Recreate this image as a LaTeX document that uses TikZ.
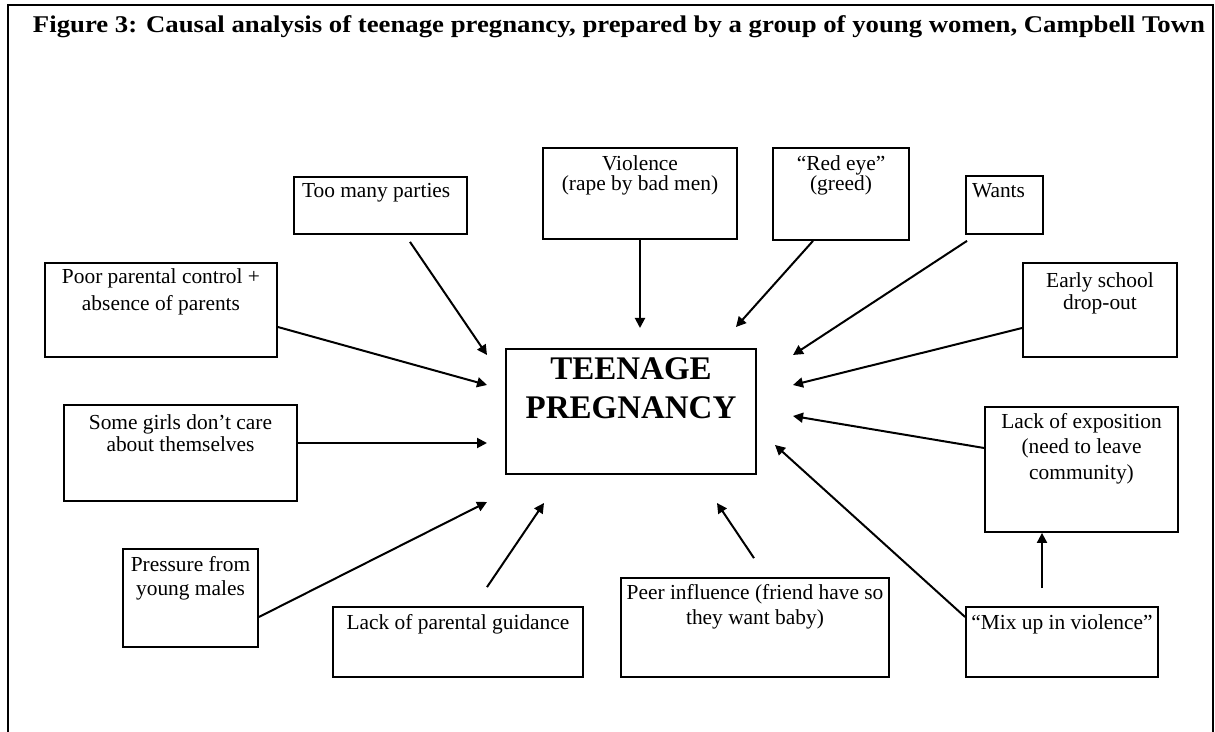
\documentclass[tikz,border=0pt]{standalone}
\usepackage{graphicx}
\usepackage{fontspec}
\setmainfont{Liberation Serif}
\usetikzlibrary{arrows.meta}
% width, height, alignment, baselineskip, first-baseline offset, text
\newcommand{\bxt}[6]{\parbox[c][#2][t]{#1}{\fontsize{10.7}{#4}\selectfont#3\rule{0pt}{#5}#6}}
\tikzset{
  bx/.style={draw, line width=0.9pt, inner sep=0pt, rectangle},
  arr/.style={line width=1pt, -{Triangle[length=5pt,width=5pt]}},
  frame/.style={line width=0.7pt}
}
\begin{document}
\begin{tikzpicture}[x=0.5pt, y=-0.5pt]
\useasboundingbox (0,0) rectangle (1215,732);
\draw[frame] (8,732) -- (8,5) -- (1213,5) -- (1213,732);
\node[anchor=base, inner sep=0pt] (title) at (619,33) {\resizebox{586pt}{\height}{\fontsize{12}{14}\selectfont\bfseries Figure 3: Causal analysis of teenage pregnancy, prepared by a group of young women, Campbell Town}};

\node[bx] (parties) at (380.5,205.5) {\bxt{86.5pt}{28.5pt}{\raggedright\hspace*{4pt}}{12pt}{10.5pt}{Too many parties}};
\node[bx] (poor) at (161,310) {\bxt{116pt}{47pt}{\centering}{13.3pt}{10.5pt}{Poor parental control +\\absence of parents}};
\node[bx] (violence) at (640,193.5) {\bxt{97pt}{45.5pt}{\centering}{10pt}{11.3pt}{Violence\\(rape by bad men)}};
\node[bx] (redeye) at (841,194) {\bxt{68pt}{46pt}{\centering}{10pt}{11.3pt}{“Red eye”\\(greed)}};
\node[bx] (wants) at (1004.5,205) {\bxt{38.5pt}{29pt}{\raggedright\hspace*{3pt}}{12pt}{11pt}{Wants}};
\node[bx] (early) at (1100,310) {\bxt{77pt}{47pt}{\centering}{11.3pt}{12.2pt}{Early school\\drop-out}};
\node[bx] (teen) at (631,411.5) {\parbox[c][62.5pt][t]{125pt}{\centering\fontsize{16.5}{19.2}\selectfont\bfseries\rule{0pt}{15.5pt}TEENAGE\\PREGNANCY}};
\node[bx] (girls) at (180.5,453) {\bxt{116.5pt}{48pt}{\centering}{10.85pt}{12.5pt}{Some girls don’t care\\about themselves}};
\node[bx] (pressure) at (190.5,598) {\bxt{67.5pt}{49pt}{\centering}{11.7pt}{11.3pt}{Pressure from\\young males}};
\node[bx] (guidance) at (458,642) {\bxt{125pt}{35pt}{\centering}{12pt}{11pt}{Lack of parental guidance}};
\node[bx] (peer) at (755,627.5) {\bxt{134pt}{49.5pt}{\centering}{12.5pt}{10.5pt}{Peer influence (friend have so\\they want baby)}};
\node[bx] (expo) at (1081.5,469.5) {\bxt{96.5pt}{62.5pt}{\centering}{12.75pt}{10.5pt}{Lack of exposition\\(need to leave\\community)}};
\node[bx] (mixup) at (1062,642) {\bxt{96pt}{35pt}{\centering}{12pt}{11pt}{“Mix up in violence”}};

\coordinate (t1) at (487,355);
\coordinate (t2) at (487,385);
\coordinate (t3) at (640,328);
\coordinate (t4) at (736,327);
\coordinate (t5) at (793,355);
\coordinate (t6) at (793,385);
\coordinate (t7) at (487,443);
\coordinate (t8) at (487,502);
\coordinate (t9) at (544,503);
\coordinate (t10) at (717,503);
\coordinate (t11) at (775,445);
\coordinate (t12) at (793,416);

\draw[arr] ([shift={(29.5,7)}]parties.south) -- (t1);
\draw[arr] ([shift={(0,17)}]poor.east) -- (t2);
\draw[arr] (violence.south) -- (t3);
\draw[arr] ([shift={(-28,0)}]redeye.south) -- (t4);
\draw[arr] ([shift={(-37.5,6)}]wants.south) -- (t5);
\draw[arr] ([shift={(0,18)}]early.west) -- (t6);
\draw[arr] ([shift={(0,-10)}]girls.east) -- (t7);
\draw[arr] ([shift={(0,19)}]pressure.east) -- (t8);
\draw[arr] ([shift={(29,-19)}]guidance.north) -- (t9);
\draw[arr] ([shift={(-1,-19)}]peer.north) -- (t10);
\draw[arr] ([shift={(0,-25)}]mixup.west) -- (t11);
\draw[arr] ([shift={(0,-21.5)}]expo.west) -- (t12);
\draw[arr] ([shift={(-20,-18)}]mixup.north) -- ([shift={(-39.5,0)}]expo.south);
\end{tikzpicture}
\end{document}
